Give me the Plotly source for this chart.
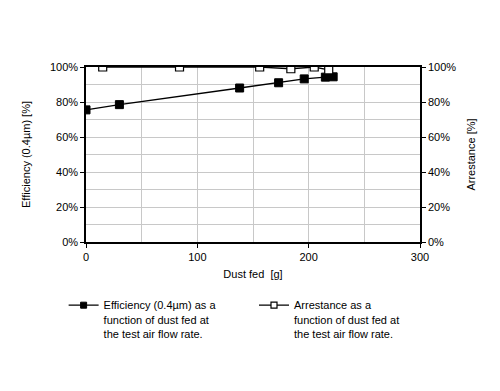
import plotly.graph_objects as go

# Data
eff_x = [0, 30, 138, 173, 196, 215, 222]
eff_y = [0.755, 0.785, 0.88, 0.91, 0.932, 0.942, 0.944]
arr_x = [15, 84, 156, 184, 205, 218]
arr_y = [1.0, 1.0, 1.0, 0.99, 1.0, 0.983]
eff_name = "Efficiency (0.4µm) as a<br>function of dust fed at<br>the test air flow rate."
arr_name = "Arrestance as a<br>function of dust fed at<br>the test air flow rate."

FONT = "Liberation Sans, Arial, sans-serif"

fig = go.Figure()
fig.add_trace(go.Scatter(
    x=eff_x, y=eff_y, name=eff_name, mode="lines+markers", showlegend=False,
    line=dict(color="black", width=1.3),
    marker=dict(symbol="square", size=8, color="black", line=dict(color="black", width=1)),
    yaxis="y",
))
fig.add_trace(go.Scatter(
    x=arr_x, y=arr_y, name=arr_name, mode="lines+markers", showlegend=False,
    line=dict(color="black", width=1.3),
    marker=dict(symbol="square", size=8, color="white", line=dict(color="black", width=1.2)),
    yaxis="y2",
))
# legend-only entries (smaller legend symbols, as in the reference)
fig.add_trace(go.Scatter(
    x=[None], y=[None], name=eff_name, mode="lines+markers",
    line=dict(color="black", width=1.3),
    marker=dict(symbol="square", size=6, color="black", line=dict(color="black", width=1)),
    yaxis="y", legend="legend",
))
fig.add_trace(go.Scatter(
    x=[None], y=[None], name=arr_name, mode="lines+markers",
    line=dict(color="black", width=1.3),
    marker=dict(symbol="square", size=6, color="white", line=dict(color="black", width=1.2)),
    yaxis="y2", legend="legend2",
))

leg_common = dict(
    orientation="v", xanchor="left", yanchor="top", valign="top",
    font=dict(size=11), bgcolor="rgba(0,0,0,0)",
    tracegroupgap=0,
)

fig.update_layout(
    width=484, height=375,
    margin=dict(l=78, r=72, t=59, b=141, autoexpand=False),
    paper_bgcolor="white", plot_bgcolor="white",
    font=dict(family=FONT, size=11, color="black"),
    xaxis=dict(
        range=[0, 300], dtick=100, tick0=0,
        showline=True, linecolor="black", linewidth=1.5, mirror=True,
        ticks="outside", ticklen=4, tickcolor="black",
        showgrid=True, gridcolor="#c8c8c8", gridwidth=1,
        minor=dict(dtick=50, showgrid=True, gridcolor="#c8c8c8", ticks=""),
        zeroline=False,
        title=dict(text="Dust fed  [g]", font=dict(size=11), standoff=8),
    ),
    yaxis=dict(
        range=[0, 1], dtick=0.2, tickformat=".0%",
        showline=True, linecolor="black", linewidth=1.5,
        ticks="outside", ticklen=4, tickcolor="black",
        showgrid=True, gridcolor="#c8c8c8", gridwidth=1,
        minor=dict(dtick=0.1, showgrid=True, gridcolor="#c8c8c8", ticks=""),
        zeroline=False,
        title=dict(text="Efficiency (0.4µm) [%]", font=dict(size=11), standoff=17),
    ),
    yaxis2=dict(
        range=[0, 1], dtick=0.2, tickformat=".0%",
        overlaying="y", side="right",
        showline=True, linecolor="black", linewidth=1.5,
        ticks="outside", ticklen=4, tickcolor="black",
        showgrid=False, zeroline=False,
        title=dict(text="Arrestance [%]", font=dict(size=11), standoff=12),
    ),
    showlegend=True,
    legend=dict(x=-0.067, y=-0.283, **leg_common),
    legend2=dict(x=0.503, y=-0.283, **leg_common),
)

fig.write_html("out.html")
